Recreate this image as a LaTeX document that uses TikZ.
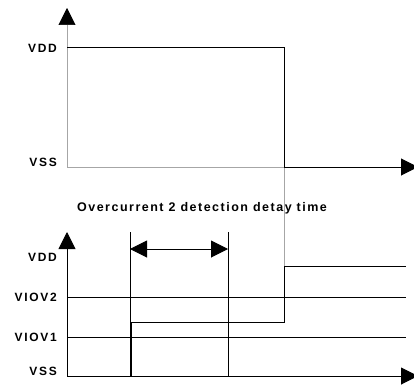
\documentclass[tikz,border=0pt]{standalone}
\usepackage{fontspec}
\setmainfont{Liberation Sans}
\newfontfamily\lblfont[LetterSpace=14]{Liberation Sans}
\newfontfamily\ttlfont[LetterSpace=12]{Liberation Sans}
\usetikzlibrary{arrows.meta}
\tikzset{
  lbl/.style={font=\lblfont\bfseries\fontsize{12}{14}\selectfont, anchor=east, inner sep=0pt},
  ttl/.style={font=\ttlfont\bfseries\fontsize{12.5}{14}\selectfont, inner sep=0pt},
  axis/.style={-{Triangle[length=17pt,width=17pt,color=black]}},
  span/.style={{Triangle[length=17pt,width=17pt]}-{Triangle[length=17pt,width=17pt]}},
  guide/.style={gray!70, line width=0.6pt},
  sig/.style={black, line width=1pt}
}
\begin{document}
\begin{tikzpicture}[x=1pt,y=-1pt]
 \useasboundingbox (0,0) rectangle (414,385);
 % upper chart
 \coordinate (o1) at (67,167);
 \coordinate (fall) at (284,167);
 \draw [guide,axis] (o1) -- (67,8);
 \draw [guide] (o1) -- (fall);
 \draw [guide] (fall) -- (284,266);
 \draw [sig] (67,48) -- (284,48) -- (fall);
 \draw [sig,axis] (fall) -- (418,167);
 \node [lbl] (vdd1) at (57,48) {VDD};
 \node [lbl] (vss1) at (57,162) {VSS};
 % lower chart
 \coordinate (o2) at (67,376);
 \draw [sig,axis] (o2) -- (67,232);
 \draw [sig,axis] (o2) -- (418,376);
 \draw [sig] (67,297) -- (406,297);
 \draw [sig] (67,337) -- (406,337);
 \draw [sig] (o2) -- (131,376) -- (131,322) -- (284,322) -- (284,266) -- (406,266);
 \draw [sig] (130,232) -- (130,376);
 \draw [sig] (228,232) -- (228,376);
 \draw [sig,span] (130,249) -- (228,249);
 \node [ttl] (title) at (202,208) {Overcurrent 2 detection detay time};
 \node [lbl] (vdd2) at (57,257) {VDD};
 \node [lbl] (viov2) at (57,297) {VIOV2};
 \node [lbl] (viov1) at (57,337) {VIOV1};
 \node [lbl] (vss2) at (57,371) {VSS};
\end{tikzpicture}
\end{document}
